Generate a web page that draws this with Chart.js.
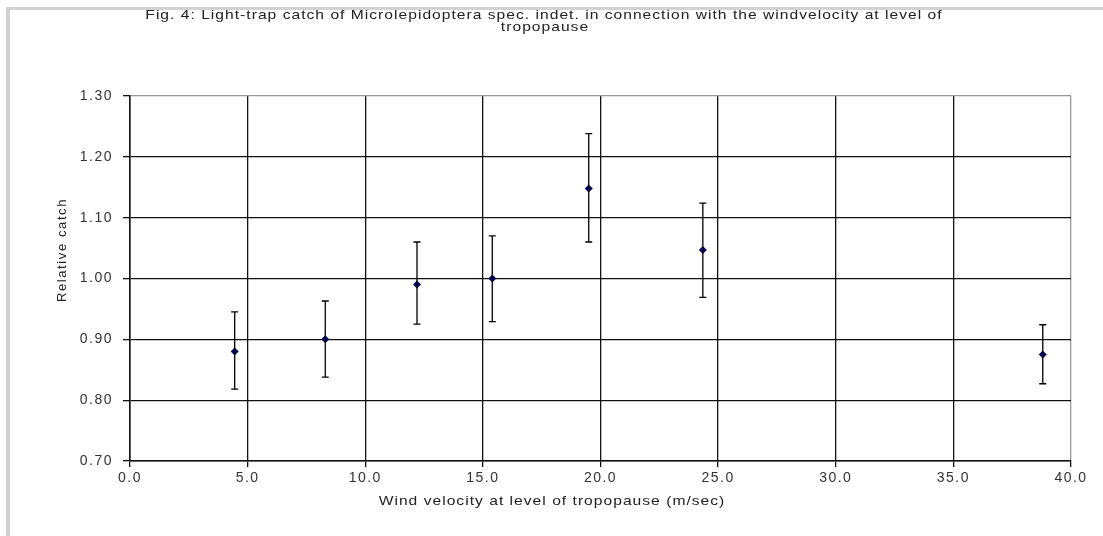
<!DOCTYPE html>
<html>
<head>
<meta charset="utf-8">
<script src="https://cdn.jsdelivr.net/npm/chart.js@4/dist/chart.umd.min.js"></script>
<style>
  body { margin: 0; background: #fff; }
  .wrap { position: relative; width: 1103px; height: 536px; }
  .frame-top { position: absolute; left: 6px; right: 0; top: 7px; height: 3px; background: #d2d2d2; }
  .frame-left { position: absolute; left: 6px; top: 7px; bottom: 0; width: 4px; background: #d2d2d2; }
  canvas { position: absolute; left: 0; top: 0; }
</style>
</head>
<body>
<div class="wrap">
  <canvas id="myChart" width="1103" height="536"></canvas>
  <div class="frame-top"></div>
  <div class="frame-left"></div>
</div>
<script>
// data
const windVelocity = [4.45, 8.3, 12.2, 15.4, 19.5, 24.35, 38.8];
const relCatch = [0.88, 0.9, 0.99, 1.0, 1.148, 1.047, 0.875];
const errHigh = [0.945, 0.963, 1.06, 1.07, 1.238, 1.124, 0.924];
const errLow = [0.818, 0.838, 0.925, 0.929, 1.06, 0.969, 0.827];

const titleLines = [
  "Fig. 4: Light-trap catch of Microlepidoptera spec. indet. in connection with the windvelocity at level of",
  "tropopause",
];
const xTitle = "Wind velocity at level of tropopause (m/sec)";
const yTitle = "Relative catch";

const FONT = "'Liberation Sans', Arial, sans-serif";

// the original's tick text is spaced out a bit
const spacing = {
  id: "spacing",
  beforeDraw(chart) {
    chart.ctx.letterSpacing = "1.5px";
  },
};

// vertical error bars, drawn through the chart scales
const errorBars = {
  id: "errorBars",
  afterDatasetsDraw(chart) {
    const { ctx, scales } = chart;
    ctx.save();
    ctx.strokeStyle = "#000";
    ctx.lineWidth = 1.3;
    windVelocity.forEach((v, i) => {
      const x = scales.x.getPixelForValue(v);
      const yTop = scales.y.getPixelForValue(errHigh[i]);
      const yBot = scales.y.getPixelForValue(errLow[i]);
      ctx.beginPath();
      ctx.moveTo(x, yTop);
      ctx.lineTo(x, yBot);
      ctx.moveTo(x - 3.5, yTop);
      ctx.lineTo(x + 3.5, yTop);
      ctx.moveTo(x - 3.5, yBot);
      ctx.lineTo(x + 3.5, yBot);
      ctx.stroke();
    });
    ctx.restore();
  },
};

// chart title and axis titles, placed by hand like the Excel original
// (the picture is stretched sideways, so the text is too)
const drawWide = (ctx, text, x, y, sx) => {
  ctx.save();
  ctx.translate(x, y);
  ctx.scale(sx, 1);
  ctx.fillText(text, 0, 0);
  ctx.restore();
};

const titles = {
  id: "titles",
  afterDraw(chart) {
    const { ctx } = chart;
    ctx.save();
    ctx.font = "13px " + FONT;
    ctx.fillStyle = "#222";
    ctx.textAlign = "center";
    ctx.textBaseline = "middle";
    ctx.letterSpacing = "0.85px";
    drawWide(ctx, titleLines[0], 544, 15, 1.2);
    drawWide(ctx, titleLines[1], 545, 27, 1.2);
    drawWide(ctx, xTitle, 552, 501, 1.2);
    ctx.letterSpacing = "1.6px";
    ctx.translate(62, 250);
    ctx.rotate(-Math.PI / 2);
    ctx.fillText(yTitle, 0, 0);
    ctx.restore();
  },
};

const ctx = document.getElementById("myChart").getContext("2d");

new Chart(ctx, {
  type: "scatter",
  data: {
    datasets: [
      {
        label: "Relative catch",
        data: windVelocity.map((v, i) => ({ x: v, y: relCatch[i] })),
        pointStyle: "rectRot",
        pointRadius: 4,
        backgroundColor: "#000066",
        borderColor: "#000066",
        borderWidth: 0,
      },
    ],
  },
  options: {
    responsive: false,
    animation: false,
    layout: {
      padding: { left: 8, right: 32, top: 96, bottom: 15 },
    },
    plugins: {
      legend: { display: false },
      tooltip: { enabled: false },
      title: { display: false },
    },
    scales: {
      x: {
        type: "linear",
        min: 0,
        max: 40,
        ticks: {
          stepSize: 5,
          color: "#333",
          padding: 3,
          font: { family: FONT, size: 14 },
          callback: (v) => Number(v).toFixed(1),
        },
        grid: {
          color: (c) => (c.tick && c.tick.value === 40 ? "#999" : "#111"),
          tickColor: "#111",
          lineWidth: 1.3,
          tickLength: 6,
        },
        border: { display: true, color: "#111", width: 1.5 },
        afterFit: (scale) => {
          scale.height = 60;
        },
      },
      y: {
        min: 0.7,
        max: 1.3,
        ticks: {
          stepSize: 0.1,
          color: "#333",
          padding: 10,
          font: { family: FONT, size: 14 },
          callback: (v) => Number(v).toFixed(2),
        },
        grid: {
          color: (c) => (c.tick && Math.abs(c.tick.value - 1.3) < 0.001 ? "#999" : "#111"),
          tickColor: "#111",
          lineWidth: 1.3,
          tickLength: 7,
        },
        border: { display: true, color: "#111", width: 1.5 },
        afterFit: (scale) => {
          scale.width = 122;
        },
      },
    },
  },
  plugins: [spacing, errorBars, titles],
});
</script>
</body>
</html>
